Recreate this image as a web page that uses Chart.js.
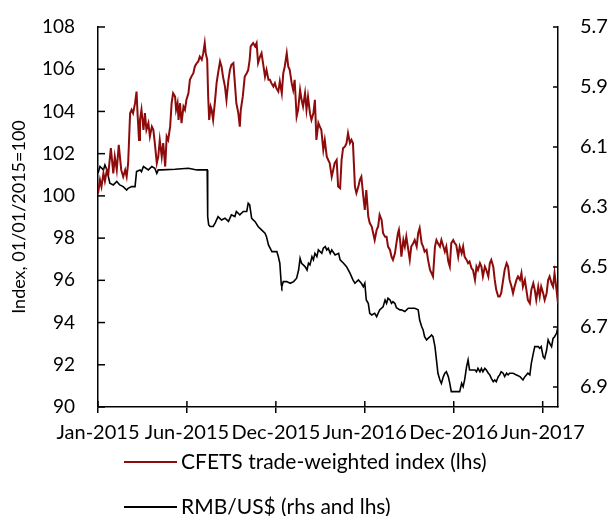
<!DOCTYPE html>
<html><head><meta charset="utf-8">
<script src="https://cdn.jsdelivr.net/npm/chart.js@4/dist/chart.umd.min.js"></script>
<style>html,body{margin:0;padding:0;background:#fff;}#wrap{width:613px;height:516px;}</style>
</head><body><div id="wrap"><canvas id="c" width="613" height="516"></canvas></div>
<script>
// x values: days since 01/01/2015
const cfetsDays = [0,4,7,11,14,18,21,26,31,34,38,42,47,51,55,58,61,65,68,71,75,78,80,83,85,88,92,95,98,102,105,109,112,115,119,122,125,129,132,136,139,142,146,149,152,156,
158,161,163,166,169,173,176,179,183,186,189,193,196,200,203,206,210,213,216,218,221,223,225,228,230,233,237,240,243,247,250,253,257,260,264,267,270,274,277,280,284,287,289,293,295,297,301,304,
307,309,314,318,321,324,328,331,334,338,341,345,348,351,355,358,361,365,368,372,375,378,382,385,388,392,395,398,402,405,409,412,415,419,422,425,429,432,436,439,442,446,449,452,456,
459,463,466,469,473,476,479,483,486,490,493,496,500,503,506,510,513,516,520,523,527,530,533,537,540,543,547,550,554,557,560,564,567,570,574,577,581,584,587,591,594,597,601,604,607,609,612,
614,618,621,624,628,631,634,638,641,645,648,651,655,658,661,665,668,672,675,678,682,685,688,692,695,699,702,705,709,712,715,719,722,725,729,732,736,739,742,746,749,752,756,759,
763,766,769,773,776,779,783,786,790,793,796,800,803,806,810,813,816,820,823,827,830,833,837,840,843,847,850,854,857,860,864,867,870,874,877,881,884,887,891,894,897,901,904,908,911,914,918,921,924,928,931];
const cfetsValues = [100.1,100.76,100.44,101.07,100.7,101.23,101.07,102.26,101.07,101.86,101.23,102.42,101.23,100.91,101.23,100.91,101.55,103.92,104.08,103.92,104.39,104.94,103.92,102.65,103.6,104.08,103.13,103.92,103.13,103.45,102.81,103.28,103.13,102.5,101.55,101.86,102.65,101.86,102.5,101.39,102.81,102.65,103.28,104.39,104.86,104.7,
104.08,104.39,103.6,104.39,103.45,104.23,104.08,104.55,104.86,105.5,105.65,105.81,106.13,106.29,106.37,106.6,106.45,106.76,107.24,106.76,106.45,104.7,103.6,104.23,104.08,103.6,104.55,105.34,105.81,106.37,106.13,105.65,105.18,104.55,105.5,105.97,106.21,106.29,105.34,104.39,103.92,103.28,104.08,104.7,105.18,105.65,105.81,105.97,
106.45,107.08,107.24,107.08,107.24,106.29,106.6,106.76,106.29,105.65,105.97,105.5,105.5,105.34,105.18,105.34,105.1,104.94,105.42,104.86,105.81,106.13,106.76,106.13,105.97,105.34,105.02,105.5,103.76,104.08,105.02,104.55,104.23,104.86,104.08,104.7,103.92,103.6,103.92,104.55,102.65,103.45,103.28,103.13,102.18,
102.65,101.86,101.7,101.55,100.91,101.23,101.55,101.7,100.44,100.36,101.7,102.26,102.34,102.5,102.97,102.5,102.65,102.5,100.44,100.13,100.44,100.76,100.91,99.97,99.34,100.28,99.02,98.71,98.55,98.23,97.91,98.39,98.55,99.1,98.86,98.23,98.07,98.07,97.6,97.44,97.12,96.97,97.28,97.76,98.23,98.39,97.76,
97.12,97.91,97.6,98.07,97.44,96.97,97.6,97.76,97.91,97.6,98.23,98.47,97.76,97.6,97.36,97.44,96.97,96.49,96.34,96.18,97.6,97.91,97.76,97.6,97.91,97.6,97.36,97.6,96.89,96.65,97.76,97.91,97.76,97.68,97.12,97.6,97.28,97.6,97.12,96.97,96.81,96.89,96.57,96.49,
96.02,96.65,96.49,96.81,96.65,96.18,96.65,96.49,96.18,96.81,96.97,96.65,96.02,95.55,95.23,95.23,95.39,96.02,96.49,96.81,96.65,96.02,95.7,95.39,95.7,96.02,96.18,96.02,96.34,95.7,96.02,95.55,95.07,94.91,95.55,95.86,95.55,95.07,95.7,95.23,95.7,95.39,95.07,95.39,96.02,96.18,95.86,95.7,96.34,95.55,94.91];

const rmbDays = [0,4,11,14,18,21,24,31,38,44,51,58,61,68,75,78,85,88,92,102,109,115,119,122,129,156,183,200,221,222,224,227,233,237,243,250,257,264,270,277,280,287,294,301,304,307,311,318,324,331,338,341,345,352,362,365,368,371,372,375,382,389,396,402,406,409,412,419,423,426,429,433,436,439,443,446,453,456,460,463,466,470,473,480,487,490,497,503,510,516,520,527,533,537,540,543,547,550,554,560,564,567,570,577,581,584,587,591,594,597,601,604,611,614,621,628,634,641,648,651,655,658,661,665,668,672,675,678,682,685,688,692,695,699,702,705,709,712,715,732,736,739,742,746,749,752,763,766,769,773,776,779,783,786,790,793,796,800,803,806,810,813,816,820,823,827,830,833,840,847,854,857,860,864,867,870,874,877,881,884,891,894,897,901,904,908,911,914,918,921,924,928,931];
const rmbValues = [101.07,101.39,101.23,101.47,101.23,100.91,100.6,100.52,100.68,100.52,100.44,100.28,100.36,100.44,100.44,101.15,101.23,101.15,101.39,101.23,101.39,101.31,101.07,101.23,101.23,101.26,101.31,101.23,101.23,99.02,98.63,98.55,98.55,98.71,99.02,98.86,98.94,98.79,99.1,99.02,99.26,99.1,99.26,99.26,99.65,99.57,98.94,98.78,98.55,98.39,98.23,98.07,97.68,97.36,97.36,97.12,96.81,95.78,95.7,95.94,95.94,95.86,95.94,96.1,96.49,97.04,96.81,96.65,96.49,96.81,96.73,97.12,96.97,97.28,97.12,97.44,97.28,97.52,97.6,97.44,97.52,97.28,97.44,97.2,97.28,96.97,96.81,96.65,96.34,96.02,95.86,96.02,95.86,95.7,95.86,95.07,94.91,94.44,94.36,94.44,94.28,94.44,94.6,94.75,95.07,94.91,95.15,95.07,94.91,94.99,94.9,94.7,94.6,94.6,94.52,94.68,94.68,94.68,94.6,94.12,93.81,93.65,93.33,93.18,93.25,93.33,93.41,93.33,92.86,92.23,91.6,91.28,91.12,91.44,91.6,91.67,91.44,91.12,90.73,90.73,91.12,90.96,91.28,91.91,92.23,91.75,91.75,91.67,91.83,91.67,91.83,91.67,91.83,91.75,91.6,91.52,91.36,91.2,91.28,91.2,91.44,91.52,91.67,91.6,91.44,91.6,91.52,91.6,91.6,91.52,91.44,91.36,91.28,91.44,91.52,91.6,91.52,92.07,92.54,92.86,92.86,92.78,92.86,92.38,92.3,92.7,93.18,93.02,92.86,93.25,93.33,93.49,93.81];

const seriesNames = ['CFETS trade-weighted index (lhs)', 'RMB/US$ (rhs and lhs)'];
const xTickDays = [0,180,360,540,720,900];
const xTickLabels = ['Jan-2015','Jun-2015','Dec-2015','Jun-2016','Dec-2016','Jun-2017'];
const rightTickValues = [5.7,5.9,6.1,6.3,6.5,6.7,6.9];
const rightTickLabels = ['5.7','5.9','6.1','6.3','6.5','6.7','6.9'];
const leftTitle = 'Index, 01/01/2015=100';

const FONT = 'Lato, "Open Sans", sans-serif';
const AREA = {left: 98, right: 558, top: 27, bottom: 407};

const extras = {
  id: 'extras',
  afterLayout(chart) {
    const ca = chart.chartArea;
    Object.assign(ca, AREA, {width: AREA.right - AREA.left, height: AREA.bottom - AREA.top});
    const {x, y, y2} = chart.scales;
    Object.assign(y, {left: 0, right: AREA.left, width: AREA.left, top: AREA.top, bottom: AREA.bottom, height: AREA.bottom - AREA.top});
    Object.assign(y2, {left: AREA.right, right: 613, width: 613 - AREA.right, top: AREA.top, bottom: AREA.bottom, height: AREA.bottom - AREA.top});
    Object.assign(x, {left: AREA.left, right: AREA.right, width: AREA.right - AREA.left, top: AREA.bottom, bottom: AREA.bottom + 40, height: 40});
    [x, y, y2].forEach(s => s.configure());
  },
  afterDraw(chart) {
    const ctx = chart.ctx, xs = chart.scales.x, ys = chart.scales.y, y2 = chart.scales.y2, a = chart.chartArea;
    ctx.save();
    ctx.strokeStyle = '#000'; ctx.lineWidth = 1.5;
    // inward tick marks
    xs.ticks.forEach(t => {
      const px = xs.getPixelForValue(t.value);
      ctx.beginPath(); ctx.moveTo(px, a.bottom); ctx.lineTo(px, a.bottom - 6); ctx.stroke();
    });
    ys.ticks.forEach(t => {
      const py = ys.getPixelForValue(t.value);
      ctx.beginPath(); ctx.moveTo(a.left, py); ctx.lineTo(a.left + 7, py); ctx.stroke();
    });
    y2.ticks.forEach(t => {
      const py = y2.getPixelForValue(t.value);
      ctx.beginPath(); ctx.moveTo(a.right, py); ctx.lineTo(a.right - 5, py); ctx.stroke();
    });
    // legend
    const rows = [462, 507];
    ctx.font = '21px ' + FONT; ctx.textBaseline = 'middle'; ctx.textAlign = 'left';
    chart.data.datasets.forEach((ds, i) => {
      ctx.strokeStyle = ds.borderColor; ctx.lineWidth = 2;
      ctx.beginPath(); ctx.moveTo(124, rows[i]); ctx.lineTo(177, rows[i]); ctx.stroke();
      ctx.fillStyle = '#000';
      ctx.fillText(ds.label, 181, rows[i]);
    });
    ctx.restore();
  }
};

new Chart(document.getElementById('c'), {
  type: 'line',
  data: {
    datasets: [
      {label: seriesNames[0], data: cfetsDays.map((d, i) => ({x: d, y: cfetsValues[i]})), borderColor: '#8E0B0B', borderWidth: 2, pointRadius: 0, tension: 0, yAxisID: 'y'},
      {label: seriesNames[1], data: rmbDays.map((d, i) => ({x: d, y: rmbValues[i]})), borderColor: '#000000', borderWidth: 1.6, pointRadius: 0, tension: 0, yAxisID: 'y'}
    ]
  },
  options: {
    responsive: false, animation: false, devicePixelRatio: 1,
    layout: {padding: {top: 27, bottom: 60, left: 0, right: 0}},
    plugins: {legend: {display: false}, tooltip: {enabled: false}},
    scales: {
      x: {
        type: 'linear', position: 'bottom', min: 0, max: 931,
        afterBuildTicks: s => { s.ticks = xTickDays.map(v => ({value: v})); },
        ticks: {callback: (v, i) => xTickLabels[i], autoSkip: false, maxRotation: 0, font: {family: FONT, size: 20}, color: '#000', padding: 8},
        grid: {drawOnChartArea: false, drawTicks: true, tickLength: 6, color: '#000', lineWidth: 1.5},
        border: {color: '#000', width: 1.5},
        afterFit: s => { s.height = 40; }
      },
      y: {
        position: 'left', min: 90, max: 108,
        ticks: {stepSize: 2, font: {family: FONT, size: 19}, color: '#000', padding: 0},
        grid: {drawOnChartArea: false, drawTicks: true, tickLength: 23, tickColor: 'rgba(0,0,0,0)', color: '#000', lineWidth: 1.5},
        border: {color: '#000', width: 1.5},
        title: {display: true, text: leftTitle, font: {family: FONT, size: 18}, color: '#000', padding: {top: 8, bottom: 0}},
        afterFit: s => { s.width = 98; }
      },
      y2: {
        position: 'right', reverse: true, min: 5.7, max: 6.9667,
        afterBuildTicks: s => { s.ticks = rightTickValues.map(v => ({value: v})); },
        ticks: {callback: (v, i) => rightTickLabels[i], font: {family: FONT, size: 20}, color: '#000', padding: 0},
        grid: {drawOnChartArea: false, drawTicks: true, tickLength: 22, tickColor: 'rgba(0,0,0,0)', color: '#000', lineWidth: 1.5},
        border: {color: '#000', width: 1.5},
        afterFit: s => { s.width = 55; }
      }
    }
  },
  plugins: [extras]
});
</script></body></html>
